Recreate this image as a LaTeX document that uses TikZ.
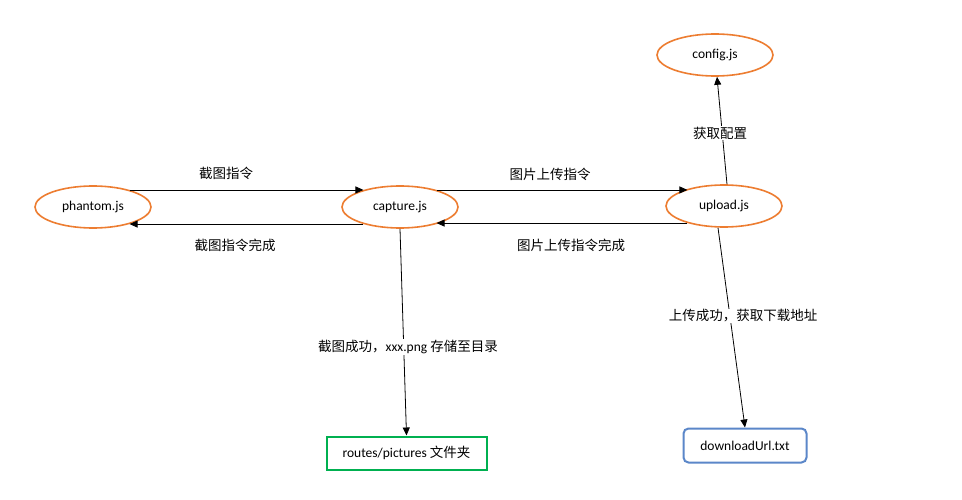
\documentclass[tikz,border=0pt]{standalone}
\usepackage{fontspec}
\setmainfont{Carlito}
\newfontfamily\cjk{Noto Sans CJK SC}
\usetikzlibrary{arrows.meta,shapes.geometric}
\definecolor{orangeE}{HTML}{ED7D31}
\definecolor{greenB}{HTML}{00B050}
\definecolor{blueB}{HTML}{5B87C9}
\tikzset{
  jsnode/.style={ellipse,draw=orangeE,line width=1.6pt,minimum width=116pt,minimum height=42pt,inner sep=0pt,font=\fontsize{13.5}{15}\selectfont},
  folder/.style={rectangle,draw=greenB,line width=2pt,minimum width=160pt,minimum height=33pt,inner sep=0pt,font=\fontsize{13.5}{15}\selectfont},
  filebox/.style={rectangle,rounded corners=5pt,draw=blueB,line width=2pt,minimum width=123pt,minimum height=34pt,inner sep=0pt,font=\fontsize{13.5}{15}\selectfont},
  arr/.style={draw=black,line width=0.8pt,-{Triangle[length=8pt,width=7pt]}},
  lbl/.style={fill=white,inner sep=1pt,font=\cjk\fontsize{13.5}{15}\selectfont}
}
\begin{document}
\begin{tikzpicture}[x=1pt,y=-1pt]
\useasboundingbox[fill=white] (0,0) rectangle (962,500);
\node[jsnode] (ph) at (93,207) {phantom.js};
\node[jsnode] (cap) at (400,207) {capture.js};
\node[jsnode] (up) at (724,206) {upload.js};
\node[jsnode] (cfg) at (715,55) {config.js};
\node[folder] (rt) at (406.5,453) {routes/pictures {\cjk 文件夹}};
\node[filebox] (dl) at (745,445.5) {downloadUrl.txt};

\draw[arr] (ph.25) -- (cap.155 |- ph.25);
\draw[arr] (cap.205) -- (ph.335 |- cap.205);
\draw[arr] (cap.25) -- (up.155 |- cap.25);
\draw[arr] (up.205) -- (cap.335 |- up.205);
\draw[arr] ([xshift=3pt]up.north) -- ([xshift=2pt]cfg.south);
\draw[arr] (cap.south) -- (rt.north);
\draw[arr] ([xshift=-6pt]up.south) -- (dl.north);

\node[lbl] (l1) at (226,173) {截图指令};
\node[lbl] (l2) at (235,245) {截图指令完成};
\node[lbl] (l3) at (550,174) {图片上传指令};
\node[lbl] (l4) at (571,245) {图片上传指令完成};
\node[lbl] (l5) at (720,133) {获取配置};
\node[lbl] (l6) at (408,347) {截图成功，{\rmfamily\fontsize{13.5}{15}\selectfont xxx.png} 存储至目录};
\node[lbl] (l7) at (743,316) {上传成功，获取下载地址};
\end{tikzpicture}
\end{document}
